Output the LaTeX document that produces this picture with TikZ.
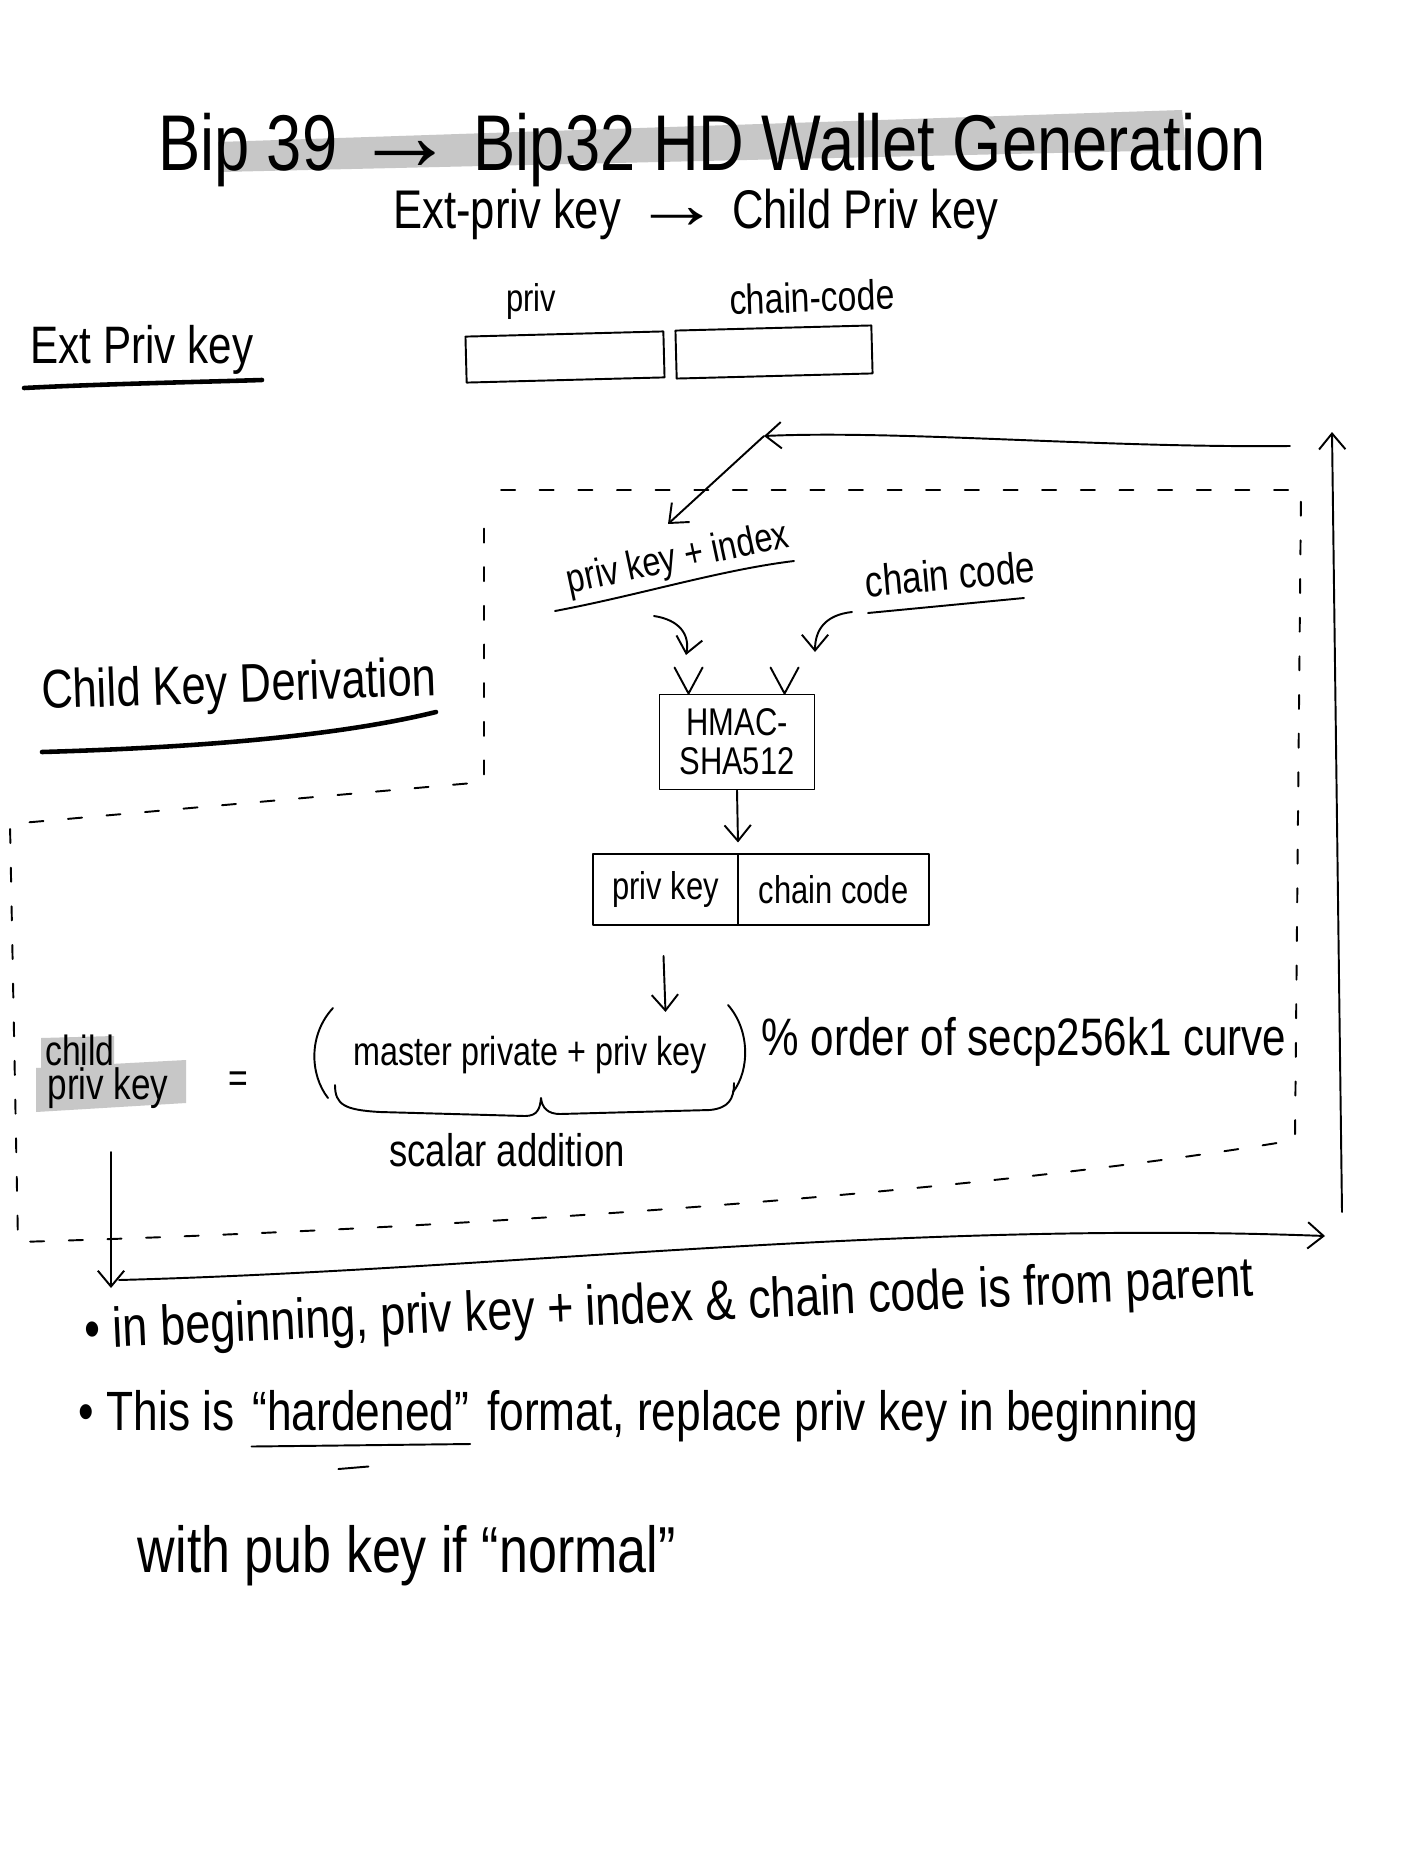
\documentclass[tikz,border=0pt]{standalone}
\usepackage{fontspec}
\newfontfamily\hand[FakeStretch=0.8]{Liberation Sans}
\usetikzlibrary{arrows.meta,calc}
\newcommand\bigarr{\scalebox{2}[1.3]{→}}
\newcommand\midarr{\scalebox{1.6}[1.3]{→}}
\begin{document}
\begin{tikzpicture}[x=0.02cm,y=-0.02cm,line width=1.1pt,line cap=round,line join=round,
  fsz/.style={font=\hand\fontsize{#1}{#1}\selectfont},
  lbl/.style={inner sep=0pt},
  arr/.style={-{Straight Barb[length=9pt,width=15pt,line width=1.1pt]}},
  boxed/.style={draw,inner sep=0pt},
  hl/.style={fill=black!22,draw=none},
  dsh/.style={dash pattern=on 8pt off 14pt}]
\fill[white] (0,0) rectangle (1404,1872);
\useasboundingbox (0,0) rectangle (1404,1872);

% title
\fill[hl] (218,142) -- (1182,110) -- (1186,150) -- (220,172) -- cycle;
\node[lbl,fsz=45] (title) at (712,150) {Bip 39 \midarr\ Bip32 HD Wallet Generation};
\node[lbl,fsz=31] (sub) at (696,214) {Ext-priv key \bigarr\ Child Priv key};

% ext priv key
\node[lbl,fsz=30] (ext) at (142,350) {Ext Priv key};
\draw[line width=2.6pt] (24,388) .. controls (100,384) and (200,382) .. (262,380);
\node[lbl,fsz=22] (privl) at (531,302) {priv};
\node[lbl,fsz=24,rotate=2] (chainl) at (812,297) {chain-code};
\node[boxed,minimum width=3.96cm,minimum height=0.92cm,rotate=1.5] (privbox) at (565,357) {};
\node[boxed,minimum width=3.92cm,minimum height=0.96cm,rotate=1.5] (chainbox) at (774,352) {};

% dashed region
\draw[dsh] (501,490) -- (1301,490) -- (1295,1140)
  .. controls (1000,1190) and (500,1228) .. (18,1242) -- (10,824) -- (484,782) -- (484,513);

\node[lbl,fsz=31,rotate=2] (ckd) at (239,688) {Child Key Derivation};
\draw[line width=2.6pt] (42,752) .. controls (180,748) and (330,738) .. (436,712);

% inputs
\node[lbl,fsz=23,rotate=12] (pki) at (678,560) {priv key + index};
\draw (555,611) .. controls (640,595) and (720,570) .. (794,561);
\node[lbl,fsz=25,rotate=5] (cc) at (950,574) {chain code};
\draw (868,613) -- (1024,598);

\node[boxed,fsz=22,align=center,minimum width=3.1cm,minimum height=1.9cm] (hmac) at (737,742) {HMAC-\\SHA512};
\draw[arr] (654,616) .. controls (680,620) and (690,635) .. (686,655);
\draw[arr] (852,612) .. controls (825,615) and (815,630) .. (815,652);
\draw ($(hmac.north west)+(16,-26)$) -- ($(hmac.north west)+(30,0)$) -- ($(hmac.north west)+(44,-26)$);
\draw ($(hmac.north west)+(112,-26)$) -- ($(hmac.north west)+(126,0)$) -- ($(hmac.north west)+(140,-26)$);

% output
\node[boxed,fsz=22,minimum width=2.9cm,minimum height=1.42cm] (opk) at (665.5,889.5) {priv key};
\node[boxed,fsz=22,minimum width=3.82cm,minimum height=1.42cm] (occ) at (833.5,889.5) {chain code};
\draw[arr] (hmac.south) -- ++(1,52);
\draw[arr] (opk.south) ++(-2,30) -- ++(2,56);

% formula
\node[lbl,fsz=23] (mp) at (530,1055) {master private + priv key};
\draw (333,1008) .. controls (308,1035) and (310,1075) .. (328,1098);
\draw (728,1005) .. controls (750,1030) and (750,1070) .. (733,1092);
\node[lbl,fsz=30] (ord) at (1024,1042) {\% order of secp256k1 curve};
\draw (335,1085) .. controls (335,1105) and (345,1110) .. (380,1112) -- (525,1116)
  .. controls (538,1116) and (540,1108) .. (541,1098)
  .. controls (542,1108) and (548,1114) .. (560,1114) -- (710,1110)
  .. controls (728,1108) and (734,1100) .. (734,1083);
\node[lbl,fsz=26] (sa) at (507,1150) {scalar addition};

\fill[hl] (41,1038) -- (114,1036) -- (114,1067) -- (41,1070) -- cycle;
\fill[hl] (36,1068) -- (186,1060) -- (186,1103) -- (36,1112) -- cycle;
\node[lbl,fsz=24] (child) at (80,1050) {child};
\node[lbl,fsz=25] (cpk) at (108,1088) {priv key};
\node[lbl,fsz=24] (eq) at (238,1082) {=};

% loop arrows
\coordinate (ldown) at (111,1288);
\coordinate (bl) at (119,1280);
\coordinate (br) at (1325,1236);
\coordinate (rb) at (1342,1212);
\coordinate (rt) at (1332,432);
\coordinate (tr) at (1290,446);
\coordinate (tl) at (764,436);
\coordinate (pkitop) at (668,524);
\draw[arr] (111,1152) -- (ldown);
\draw[arr] (bl) .. controls (500,1270) and (900,1220) .. (br);
\draw[arr] (rb) -- (rt);
\draw[arr] (tr) .. controls (1100,448) and (900,430) .. (tl);
\draw[arr] (tl) -- (pkitop);

% notes
\node[lbl,fsz=32,anchor=west,rotate=2.6] (b1) at (84,1334) {• in beginning, priv key + index \& chain code is from parent};
\node[lbl,fsz=31.5,anchor=base west] (b2a) at (78,1430) {• This is};
\node[lbl,fsz=31.5,anchor=base west] (hard) at ($(b2a.base east)+(16,0)$) {“hardened”};
\node[lbl,fsz=31.5,anchor=base west] (b2c) at ($(hard.base east)+(16,0)$) {format, replace priv key in beginning};
\draw ([yshift=-0.3cm]hard.south west) -- ([yshift=-0.25cm]hard.south east);
\draw ([xshift=-0.45cm,yshift=-0.75cm]hard.south) -- ++(0.6cm,0.05cm);
\node[lbl,fsz=37,anchor=west] (b3) at (137,1556) {with pub key if “normal”};
\end{tikzpicture}
\end{document}
